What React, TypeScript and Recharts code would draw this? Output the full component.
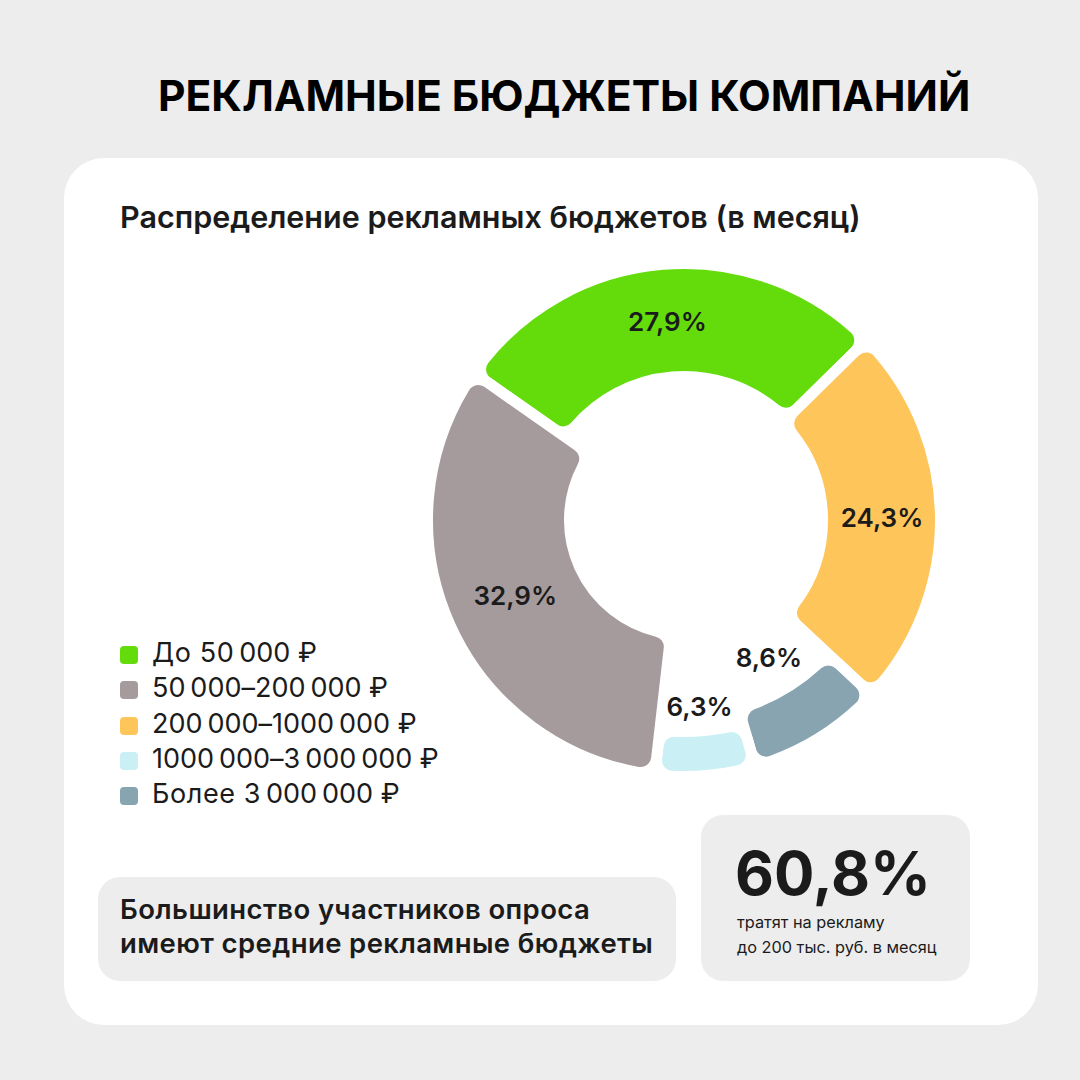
import { PieChart, Pie, Cell } from 'recharts'

const CATEGORIES = [
  'До 50\u202f000 ₽',
  '50\u202f000–200\u202f000 ₽',
  '200\u202f000–1000\u202f000 ₽',
  '1000\u202f000–3\u202f000\u202f000 ₽',
  'Более 3\u202f000\u202f000 ₽',
]
const SHARES = [27.9, 32.9, 24.3, 6.3, 8.6]
// order of the slices, clockwise from the top
const RING_ORDER = [0, 2, 4, 3, 1]

const COLORS = ['#64dc0c', '#a59b9d', '#fec65a', '#caf0f5', '#87a4b0']
// each slice has its own inner edge, outer edge is shared
const INNER = [149, 120, 144, 217, 202]
const LABEL_R = [199, 185, 198, 187, 162]
const OUTER = 251
const GAP = 11
const START = 145

const FONT = 'Inter, "Noto Sans", sans-serif'
const INK = '#1b1b1b'

const pieData = RING_ORDER.map((cat) => ({ name: CATEGORIES[cat], value: SHARES[cat], cat }))

const fmt = (v: number) => v.toFixed(1).replace('.', ',') + '%'

// eslint-disable-next-line @typescript-eslint/no-explicit-any
function renderLabel(props: any) {
  const { cx, cy, midAngle, index } = props
  const cat = pieData[index].cat
  const r = LABEL_R[cat]
  const rad = (-midAngle * Math.PI) / 180
  const x = cx + r * Math.cos(rad)
  const y = cy + r * Math.sin(rad)
  return (
    <text
      key={index}
      x={x}
      y={y}
      textAnchor="middle"
      dominantBaseline="central"
      fill={INK}
      fontFamily={FONT}
      fontWeight={600}
      fontSize={26}
    >
      {fmt(SHARES[cat])}
    </text>
  )
}

export default function App() {
  return (
    <div
      style={{
        position: 'relative',
        width: 1080,
        height: 1080,
        background: '#ededed',
        fontFamily: FONT,
        color: INK,
        overflow: 'hidden',
      }}
    >
      <style>{'body{margin:0}'}</style>

      <div
        style={{
          position: 'absolute',
          left: 158,
          top: 74,
          fontSize: 42.5,
          lineHeight: '44px',
          fontWeight: 700,
          color: '#000',
          whiteSpace: 'nowrap',
        }}
      >
        РЕКЛАМНЫЕ БЮДЖЕТЫ КОМПАНИЙ
      </div>

      <div
        style={{
          position: 'absolute',
          left: 64,
          top: 158,
          width: 974,
          height: 867,
          borderRadius: 40,
          background: '#fff',
        }}
      />

      <div
        style={{
          position: 'absolute',
          left: 120,
          top: 202,
          fontSize: 30.5,
          lineHeight: '30px',
          fontWeight: 600,
          whiteSpace: 'nowrap',
        }}
      >
        Распределение рекламных бюджетов (в месяц)
      </div>

      <div style={{ position: 'absolute', left: 399, top: 235 }}>
        <PieChart width={560} height={560}>
          {RING_ORDER.map((cat, k) => (
            <Pie
              key={cat}
              data={pieData}
              dataKey="value"
              nameKey="name"
              cx={280}
              cy={280}
              innerRadius={INNER[cat] - GAP / 2}
              outerRadius={OUTER + GAP / 2}
              startAngle={START}
              endAngle={START - 360}
              cornerRadius={16}
              paddingAngle={0}
              isAnimationActive={false}
              label={k === RING_ORDER.length - 1 ? renderLabel : false}
              labelLine={false}
            >
              {pieData.map((d) => (
                <Cell
                  key={d.cat}
                  fill={d.cat === cat ? COLORS[cat] : 'transparent'}
                  stroke={d.cat === cat ? '#fff' : 'none'}
                  strokeWidth={GAP}
                />
              ))}
            </Pie>
          ))}
        </PieChart>
      </div>

      <div style={{ position: 'absolute', left: 120, top: 635 }}>
        {CATEGORIES.map((c, i) => (
          <div
            key={c}
            style={{ display: 'flex', alignItems: 'center', height: 35.3, whiteSpace: 'nowrap' }}
          >
            <div
              style={{
                width: 18,
                height: 18,
                borderRadius: 4,
                background: COLORS[i],
                marginTop: 5,
                marginRight: 14,
              }}
            />
            <span style={{ fontSize: 27, lineHeight: '35px', fontWeight: 400, letterSpacing: 0.6 }}>
              {c}
            </span>
          </div>
        ))}
      </div>

      <div
        style={{
          position: 'absolute',
          left: 98,
          top: 877,
          width: 578,
          height: 104,
          borderRadius: 22,
          background: '#ededed',
        }}
      />
      <div
        style={{
          position: 'absolute',
          left: 120,
          top: 892,
          fontSize: 27.5,
          lineHeight: '34px',
          fontWeight: 600,
          letterSpacing: 0.4,
          whiteSpace: 'nowrap',
        }}
      >
        Большинство участников опроса
        <br />
        имеют средние рекламные бюджеты
      </div>

      <div
        style={{
          position: 'absolute',
          left: 701,
          top: 815,
          width: 269,
          height: 166,
          borderRadius: 22,
          background: '#ededed',
        }}
      />
      <div
        style={{
          position: 'absolute',
          left: 735,
          top: 843,
          fontSize: 60,
          lineHeight: '60px',
          fontWeight: 700,
          whiteSpace: 'nowrap',
        }}
      >
        {fmt(60.8)}
      </div>
      <div
        style={{
          position: 'absolute',
          left: 737,
          top: 910,
          fontSize: 16.3,
          lineHeight: '25px',
          fontWeight: 400,
          whiteSpace: 'nowrap',
        }}
      >
        тратят на рекламу
        <br />
        до 200 тыс. руб. в месяц
      </div>
    </div>
  )
}
